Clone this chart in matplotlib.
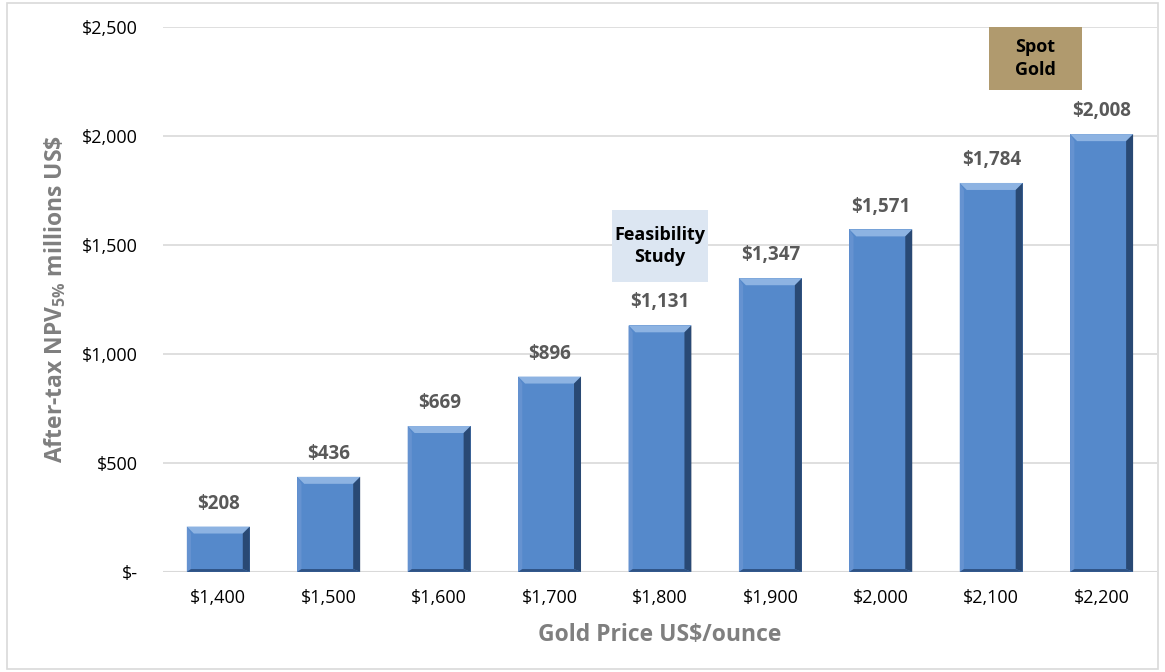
import matplotlib.pyplot as plt
from matplotlib.patches import Polygon, Rectangle
import numpy as np

plt.rcParams['font.family'] = ['Open Sans', 'DejaVu Sans']
plt.rcParams['mathtext.default'] = 'regular'

# data
gold_price = ['$1,400', '$1,500', '$1,600', '$1,700', '$1,800', '$1,900', '$2,000', '$2,100', '$2,200']
npv = [208, 436, 669, 896, 1131, 1347, 1571, 1784, 2008]
yticks = [0, 500, 1000, 1500, 2000, 2500]
ytick_labels = ['$-', '$500', '$1,000', '$1,500', '$2,000', '$2,500']

bar_col = '#5589CB'
top_col = '#8DB3E2'
left_col = '#6592D0'
right_col = '#1F3A5F'
bot_col = '#2E5284'
txt_grey = '#595959'

fig = plt.figure(figsize=(11.65, 6.72), dpi=100)
fig.patches.append(Rectangle((0.006, 0.005), 0.988, 0.99, transform=fig.transFigure,
                             fill=False, edgecolor='#D9D9D9', linewidth=1.2))
ax = fig.add_axes([0.140, 0.149, 0.853, 0.811])

x = np.arange(len(npv))
w = 0.57
ax.set_xlim(-0.5, len(npv) - 0.5)
ax.set_ylim(0, 2500)

# bevel size in data units (approx 7 px)
bx = 7 / (0.853 * 1165) * len(npv)
by = 7 / (0.811 * 672) * 2500

for i, v in enumerate(npv):
    l, r = x[i] - w / 2, x[i] + w / 2
    ax.add_patch(Rectangle((l, 0), w, v, facecolor=bar_col, edgecolor='none', zorder=2))
    # top bevel
    ax.add_patch(Polygon([(l, v), (r, v), (r - bx, v - by), (l + bx, v - by)],
                         facecolor=top_col, edgecolor='none', zorder=3))
    # left bevel
    ax.add_patch(Polygon([(l, v), (l + bx * 0.6, v - by), (l + bx * 0.6, by * 0.4), (l, 0)],
                         facecolor=left_col, edgecolor='none', zorder=3))
    # right bevel
    ax.add_patch(Polygon([(r, v), (r - bx, v - by), (r - bx, by * 0.4), (r, 0)],
                         facecolor=right_col, edgecolor='none', zorder=3, alpha=0.8))
    # bottom
    ax.add_patch(Polygon([(l, 0), (r, 0), (r - bx, by * 0.4), (l + bx * 0.6, by * 0.4)],
                         facecolor=bot_col, edgecolor='none', zorder=3))
    ax.text(x[i], v + 105, '$' + format(v, ','), ha='center', va='center',
            fontsize=13.5, fontweight='bold', color=txt_grey, zorder=4)

ax.set_yticks(yticks)
ax.set_yticklabels(ytick_labels)
ax.set_xticks(x)
ax.set_xticklabels(gold_price)
ax.tick_params(axis='both', length=0, labelsize=13, colors='black')
ax.tick_params(axis='y', pad=18)
ax.tick_params(axis='x', pad=12)
ax.grid(axis='y', color='#D9D9D9', linewidth=1.2, zorder=0)
ax.set_axisbelow(True)
for s in ax.spines.values():
    s.set_visible(False)
ax.axhline(0, color='#D9D9D9', linewidth=1.5, zorder=1)

ax.set_xlabel('Gold Price US\\$/ounce', fontsize=16.5, fontweight='bold', color='#7F7F7F', labelpad=12)
ax.set_ylabel('After-tax NPV$_{5\\%}$ millions US\\$', fontsize=16.5, fontweight='bold',
              color='#7F7F7F', labelpad=10)

# annotation boxes
ax.add_patch(Rectangle((x[4] - 0.435, 1495 - 165), 0.87, 330, facecolor='#DCE6F2',
                       edgecolor='none', zorder=3))
ax.text(x[4], 1495, 'Feasibility\nStudy', ha='center', va='center', fontsize=13,
        fontweight='bold', color='black', linespacing=1.3, zorder=4)
ax.add_patch(Rectangle((x[7] + 0.4 - 0.42, 2211), 0.84, 289, facecolor='#B09A6E',
                       edgecolor='none', zorder=3))
ax.text(x[7] + 0.4, 2355, 'Spot\nGold', ha='center', va='center', fontsize=13,
        fontweight='bold', color='black', linespacing=1.3, zorder=4)

fig.savefig('out.png', dpi=100)
